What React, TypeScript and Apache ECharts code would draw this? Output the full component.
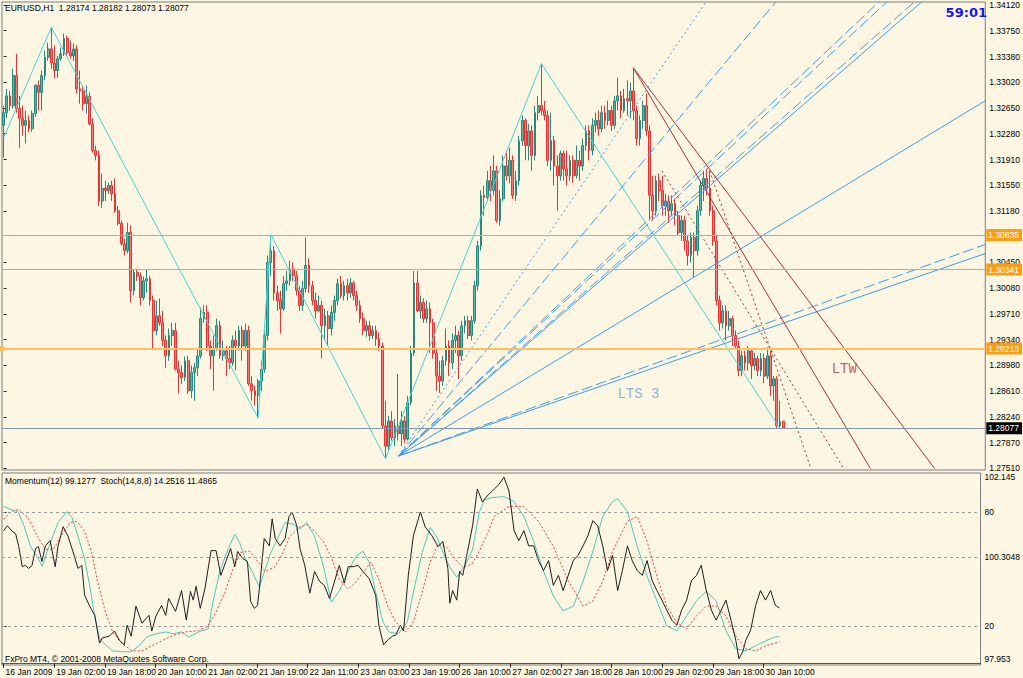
import React, { useEffect, useRef } from "react";
import * as echarts from "echarts";

// ---------- data ----------
const timeLabels = ["16 Jan 2009","19 Jan 02:00","19 Jan 18:00","20 Jan 10:00","21 Jan 02:00","21 Jan 19:00","22 Jan 11:00","23 Jan 03:00","23 Jan 19:00","26 Jan 10:00","27 Jan 02:00","27 Jan 18:00","28 Jan 10:00","29 Jan 02:00","29 Jan 18:00","30 Jan 10:00"];
const barsPerLabel = 16;
const slotCount = 309;

const priceTicks = [1.2751,1.2787,1.2824,1.2861,1.2898,1.2934,1.2971,1.3008,1.3045,1.3118,1.3155,1.3191,1.3228,1.3265,1.3302,1.3338,1.3375,1.3412];
const stochTicks = [80, 20];
const momentumTicks = [102.145, 100.3048, 97.953];

// [open, close, low, high]
const candles = [
[1.3240,1.3258,1.3194,1.3268],[1.3258,1.3282,1.3250,1.3292],[1.3282,1.3268,1.3261,1.3289],[1.3268,1.3311,1.3264,1.3321],
[1.3311,1.3264,1.3258,1.3342],[1.3264,1.3250,1.3208,1.3282],[1.3250,1.3240,1.3225,1.3268],[1.3240,1.3247,1.3214,1.3261],
[1.3247,1.3235,1.3230,1.3254],[1.3235,1.3257,1.3231,1.3261],[1.3257,1.3297,1.3252,1.3299],[1.3297,1.3287,1.3261,1.3304],
[1.3287,1.3311,1.3261,1.3318],[1.3311,1.3337,1.3304,1.3347],[1.3337,1.3349,1.3332,1.3358],[1.3349,1.3329,1.3321,1.3379],
[1.3329,1.3318,1.3307,1.3354],[1.3318,1.3335,1.3308,1.3339],[1.3335,1.3342,1.3332,1.3351],[1.3342,1.3364,1.3339,1.3371],
[1.3364,1.3344,1.3339,1.3368],[1.3344,1.3339,1.3335,1.3361],[1.3339,1.3349,1.3332,1.3357],[1.3349,1.3292,1.3285,1.3354],
[1.3292,1.3289,1.3271,1.3318],[1.3289,1.3271,1.3261,1.3297],[1.3271,1.3281,1.3257,1.3297],[1.3281,1.3242,1.3240,1.3287],
[1.3242,1.3204,1.3201,1.3250],[1.3204,1.3197,1.3190,1.3211],[1.3197,1.3132,1.3125,1.3204],[1.3132,1.3150,1.3122,1.3171],
[1.3150,1.3147,1.3132,1.3161],[1.3147,1.3154,1.3142,1.3158],[1.3154,1.3142,1.3132,1.3161],[1.3142,1.3118,1.3115,1.3164],
[1.3118,1.3100,1.3097,1.3125],[1.3100,1.3071,1.3068,1.3104],[1.3071,1.3061,1.3054,1.3078],[1.3061,1.3087,1.3057,1.3101],
[1.3087,1.3004,1.2987,1.3097],[1.3004,1.3030,1.2997,1.3035],[1.3030,1.3025,1.3018,1.3035],[1.3025,1.2994,1.2983,1.3030],
[1.2994,1.3018,1.2990,1.3024],[1.3018,1.3021,1.3001,1.3035],[1.3021,1.2990,1.2983,1.3025],[1.2990,1.2947,1.2921,1.2997],
[1.2947,1.2968,1.2940,1.2990],[1.2968,1.2958,1.2954,1.2993],[1.2958,1.2933,1.2925,1.2975],[1.2933,1.2911,1.2894,1.2940],
[1.2911,1.2940,1.2904,1.2950],[1.2940,1.2947,1.2925,1.2958],[1.2947,1.2892,1.2890,1.2958],[1.2892,1.2887,1.2857,1.2904],
[1.2887,1.2880,1.2871,1.2897],[1.2880,1.2904,1.2875,1.2910],[1.2904,1.2861,1.2857,1.2911],[1.2861,1.2887,1.2851,1.2897],
[1.2887,1.2894,1.2847,1.2901],[1.2894,1.2911,1.2882,1.2921],[1.2911,1.2964,1.2907,1.2980],[1.2964,1.2973,1.2958,1.2983],
[1.2973,1.2925,1.2918,1.2983],[1.2925,1.2911,1.2892,1.2933],[1.2911,1.2921,1.2861,1.2940],[1.2921,1.2954,1.2918,1.2964],
[1.2954,1.2911,1.2907,1.2961],[1.2911,1.2918,1.2904,1.2933],[1.2918,1.2907,1.2882,1.2925],[1.2907,1.2901,1.2892,1.2925],
[1.2901,1.2933,1.2897,1.2940],[1.2933,1.2925,1.2890,1.2947],[1.2925,1.2947,1.2918,1.2954],[1.2947,1.2925,1.2904,1.2954],
[1.2925,1.2947,1.2918,1.2957],[1.2947,1.2871,1.2868,1.2954],[1.2871,1.2861,1.2847,1.2882],[1.2861,1.2854,1.2840,1.2868],
[1.2854,1.2875,1.2822,1.2878],[1.2875,1.2892,1.2861,1.2904],[1.2892,1.2940,1.2887,1.2947],[1.2940,1.3044,1.2933,1.3054],
[1.3044,1.3061,1.3025,1.3082],[1.3061,1.3001,1.2990,1.3068],[1.3001,1.2990,1.2975,1.3011],[1.2990,1.2978,1.2943,1.3004],
[1.2978,1.3014,1.2975,1.3025],[1.3014,1.3018,1.3004,1.3032],[1.3018,1.3035,1.3011,1.3047],[1.3035,1.3025,1.3018,1.3044],
[1.3025,1.3004,1.2997,1.3032],[1.3004,1.2983,1.2975,1.3011],[1.2983,1.3007,1.2975,1.3018],[1.3007,1.3040,1.3001,1.3080],
[1.3040,1.3011,1.3001,1.3050],[1.3011,1.2990,1.2983,1.3018],[1.2990,1.2975,1.2964,1.3001],[1.2975,1.2983,1.2973,1.2997],
[1.2983,1.2954,1.2907,1.2990],[1.2954,1.2968,1.2933,1.2978],[1.2968,1.2950,1.2925,1.2975],[1.2950,1.2973,1.2940,1.2983],
[1.2973,1.2990,1.2961,1.2997],[1.2990,1.3014,1.2983,1.3021],[1.3014,1.2997,1.2993,1.3025],[1.2997,1.3011,1.2990,1.3018],
[1.3011,1.3001,1.2990,1.3021],[1.3001,1.3015,1.2994,1.3022],[1.3015,1.2997,1.2990,1.3018],[1.2997,1.2983,1.2975,1.3004],
[1.2983,1.2964,1.2958,1.2990],[1.2964,1.2947,1.2940,1.2973],[1.2947,1.2954,1.2938,1.2961],[1.2954,1.2940,1.2933,1.2961],
[1.2940,1.2947,1.2935,1.2954],[1.2947,1.2935,1.2925,1.2954],[1.2935,1.2925,1.2918,1.2944],[1.2925,1.2811,1.2807,1.2930],
[1.2811,1.2782,1.2764,1.2847],[1.2782,1.2818,1.2775,1.2825],[1.2818,1.2794,1.2790,1.2832],[1.2794,1.2811,1.2782,1.2821],
[1.2811,1.2800,1.2790,1.2885],[1.2800,1.2818,1.2782,1.2832],[1.2818,1.2792,1.2787,1.2825],[1.2792,1.2844,1.2790,1.2854],
[1.2844,1.2915,1.2840,1.2925],[1.2915,1.3015,1.2911,1.3032],[1.3015,1.2975,1.2973,1.3032],[1.2975,1.2987,1.2964,1.2997],
[1.2987,1.2964,1.2958,1.2993],[1.2964,1.2978,1.2958,1.2990],[1.2978,1.2958,1.2915,1.2987],[1.2958,1.2915,1.2907,1.2964],
[1.2915,1.2882,1.2861,1.2921],[1.2882,1.2875,1.2858,1.2904],[1.2875,1.2904,1.2868,1.2911],[1.2904,1.2925,1.2897,1.2950],
[1.2925,1.2901,1.2882,1.2933],[1.2901,1.2933,1.2892,1.2943],[1.2933,1.2940,1.2915,1.2954],[1.2940,1.2911,1.2878,1.2947],
[1.2911,1.2954,1.2904,1.2961],[1.2954,1.2961,1.2943,1.2968],[1.2961,1.2940,1.2935,1.2968],[1.2940,1.2961,1.2933,1.2968],
[1.2961,1.3011,1.2957,1.3018],[1.3011,1.3068,1.3004,1.3075],[1.3068,1.3140,1.3061,1.3147],[1.3140,1.3137,1.3111,1.3154],
[1.3137,1.3161,1.3132,1.3175],[1.3161,1.3147,1.3132,1.3182],[1.3147,1.3175,1.3140,1.3197],[1.3175,1.3104,1.3101,1.3182],
[1.3104,1.3135,1.3097,1.3147],[1.3135,1.3182,1.3132,1.3197],[1.3182,1.3168,1.3161,1.3204],[1.3168,1.3190,1.3157,1.3208],
[1.3190,1.3140,1.3135,1.3197],[1.3140,1.3161,1.3132,1.3175],[1.3161,1.3218,1.3154,1.3225],[1.3218,1.3247,1.3211,1.3254],
[1.3247,1.3211,1.3190,1.3250],[1.3211,1.3232,1.3190,1.3242],[1.3232,1.3197,1.3175,1.3240],[1.3197,1.3258,1.3190,1.3268],
[1.3258,1.3268,1.3247,1.3282],[1.3268,1.3261,1.3254,1.3328],[1.3261,1.3254,1.3247,1.3275],[1.3254,1.3190,1.3182,1.3261],
[1.3190,1.3218,1.3175,1.3258],[1.3218,1.3182,1.3154,1.3225],[1.3182,1.3168,1.3118,1.3197],[1.3168,1.3200,1.3161,1.3204],
[1.3200,1.3178,1.3161,1.3204],[1.3178,1.3168,1.3154,1.3204],[1.3168,1.3190,1.3161,1.3197],[1.3190,1.3168,1.3158,1.3197],
[1.3168,1.3190,1.3164,1.3211],[1.3190,1.3182,1.3161,1.3204],[1.3182,1.3211,1.3175,1.3221],[1.3211,1.3232,1.3204,1.3240],
[1.3232,1.3204,1.3190,1.3240],[1.3204,1.3240,1.3197,1.3250],[1.3240,1.3247,1.3230,1.3258],[1.3247,1.3235,1.3225,1.3261],
[1.3235,1.3258,1.3230,1.3268],[1.3258,1.3247,1.3235,1.3268],[1.3247,1.3261,1.3240,1.3275],[1.3261,1.3240,1.3232,1.3268],
[1.3240,1.3275,1.3235,1.3282],[1.3275,1.3282,1.3261,1.3308],[1.3282,1.3261,1.3250,1.3289],[1.3261,1.3278,1.3258,1.3292],
[1.3278,1.3275,1.3254,1.3304],[1.3275,1.3289,1.3250,1.3301],[1.3289,1.3261,1.3247,1.3322],[1.3261,1.3221,1.3211,1.3268],
[1.3221,1.3247,1.3211,1.3254],[1.3247,1.3268,1.3235,1.3275],[1.3268,1.3232,1.3225,1.3285],[1.3232,1.3140,1.3104,1.3240],
[1.3140,1.3118,1.3104,1.3168],[1.3118,1.3161,1.3111,1.3168],[1.3161,1.3147,1.3132,1.3171],[1.3147,1.3125,1.3111,1.3168],
[1.3125,1.3132,1.3111,1.3142],[1.3132,1.3118,1.3101,1.3140],[1.3118,1.3128,1.3111,1.3140],[1.3128,1.3111,1.3097,1.3135],
[1.3111,1.3087,1.3082,1.3118],[1.3087,1.3104,1.3075,1.3111],[1.3104,1.3075,1.3061,1.3111],[1.3075,1.3054,1.3040,1.3082],
[1.3054,1.3080,1.3044,1.3087],[1.3080,1.3061,1.3022,1.3087],[1.3061,1.3118,1.3054,1.3125],[1.3118,1.3154,1.3111,1.3161],
[1.3154,1.3164,1.3132,1.3175],[1.3164,1.3150,1.3140,1.3178],[1.3150,1.3118,1.3111,1.3175],[1.3118,1.3075,1.3068,1.3125],
[1.3075,1.2990,1.2983,1.3082],[1.2990,1.2958,1.2947,1.2997],[1.2958,1.2975,1.2950,1.2983],[1.2975,1.2954,1.2933,1.2983],
[1.2954,1.2964,1.2947,1.2975],[1.2964,1.2940,1.2925,1.2968],[1.2940,1.2925,1.2921,1.2947],[1.2925,1.2890,1.2882,1.2933],
[1.2890,1.2911,1.2882,1.2918],[1.2911,1.2901,1.2890,1.2918],[1.2901,1.2918,1.2890,1.2925],[1.2918,1.2897,1.2878,1.2921],
[1.2897,1.2907,1.2890,1.2915],[1.2907,1.2890,1.2882,1.2911],[1.2890,1.2907,1.2882,1.2915],[1.2907,1.2882,1.2872,1.2914],
[1.2882,1.2911,1.2878,1.2923],[1.2911,1.2868,1.2854,1.2918],[1.2868,1.2878,1.2847,1.2882],[1.2878,1.2811,1.2807,1.2882],
[1.2811,1.2817,1.2807,1.2847],[1.28174,1.28077,1.28073,1.28182]
];

// zigzag turning points [bar, price]
const zigzagBars = [0, 15, 80, 84, 120, 169, 244];
const zigzagPrices = [1.3222, 1.3380, 1.2822, 1.3084, 1.2764, 1.3328, 1.2807];

// blue fan from one origin
const fanOrigin = [124.1, 1.2768];
const fanTargets = [[221, 1.3418],[243, 1.3418],[275.5, 1.3418],[278, 1.3418],[286.7, 1.3418],[289, 1.3418],[308.5, 1.3275],[308.5, 1.3070],[308.5, 1.3057]];
const fanKinds = ["dotted","dashed","dashed","dashed","dashed","solid","solid","dashed","solid"];

// LTW (brown) lines
const ltwFrom = [[197.9, 1.3322],[197.9, 1.3322],[206.9, 1.3175],[221.9, 1.3175]];
const ltwTo = [[292.6, 1.2750],[272.4, 1.2750],[264.0, 1.2750],[253.7, 1.2750]];
const ltwKinds = ["solid","solid","dotted","dotted"];

const levelPrices = [1.30835, 1.30341, 1.29213];
const bidPrice = 1.28077;

const momentumPts = [[0,100.91],[1.2,101.02],[2.8,100.89],[3.8,100.84],[4.8,100.54],[5.9,100.08],[6.9,100.11],[7.9,100.04],[9,100.11],[10.1,100.50],[11,100.54],[12.1,100.20],[13.2,100.56],[14.7,100.68],[16.3,100.08],[17.2,100.56],[18.8,101.00],[20.3,100.79],[21.9,100.43],[23.5,100.04],[24.7,100.11],[25.6,99.42],[27.2,99.17],[28.8,98.96],[30.3,98.32],[31.2,98.44],[33.4,98.48],[35,98.60],[36.5,98.39],[38.1,98.28],[39,98.73],[40.3,98.48],[41.8,99.17],[43.7,98.78],[45.9,98.96],[46.8,98.60],[48.1,98.94],[49.9,99.19],[51.2,98.96],[52.1,99.35],[54.3,99.05],[56.2,99.53],[57.7,98.85],[59,99.51],[59.9,99.31],[60.8,99.63],[62.1,99.12],[63.6,99.58],[65.5,100.45],[67.1,100.45],[68.6,99.88],[70.2,100.20],[71.7,100.50],[73,100.08],[73.9,100.43],[75.5,100.27],[77,100.20],[78,99.28],[79.2,99.12],[80.2,99.19],[81.1,99.81],[82.3,100.73],[83.9,100.56],[84.8,101.18],[85.8,100.73],[87.3,100.56],[88.9,100.73],[90.1,101.23],[91.1,101.34],[92.6,101.02],[93.6,100.50],[95.1,100.11],[96.7,99.47],[98.2,99.97],[99.8,99.74],[101.3,99.65],[102.9,99.35],[104.5,99.74],[106,100.11],[107.6,99.70],[108.8,100.08],[110.4,100.08],[111.9,100.11],[113.5,99.97],[115.4,99.81],[117.5,99.42],[118.5,98.73],[120,98.28],[121.3,98.39],[122.8,98.48],[123.8,98.50],[125.3,98.73],[126.3,98.60],[127.8,99.88],[129.4,100.79],[131.6,101.34],[133.1,101.00],[135.3,100.79],[137.2,100.54],[138.7,100.66],[140.3,100.04],[140.9,99.24],[141.8,99.53],[143.1,99.31],[144,99.97],[145,99.88],[146.5,100.43],[148.1,101.02],[149.6,101.87],[151.2,101.57],[152.7,101.71],[154.3,101.82],[156.5,101.98],[158,102.14],[159.6,101.82],[161.2,100.91],[162.7,100.68],[164.3,100.91],[165.8,100.56],[167.4,100.56],[168.9,100.22],[170.5,99.99],[172.1,100.22],[173.6,99.65],[175.2,99.88],[176.7,99.53],[178.3,99.88],[179.9,100.22],[181.4,100.34],[183,100.56],[184.5,100.79],[186.1,101.14],[187.6,101.02],[189.2,100.56],[190.7,99.99],[192.3,100.34],[193.9,99.53],[195.4,99.99],[197,100.56],[198.5,100.22],[200.1,99.99],[201.7,99.88],[203.2,100.22],[204.8,99.76],[206.3,99.53],[207.9,99.31],[209.4,99.08],[211,98.85],[212.6,98.73],[214.1,99.08],[215.7,99.31],[217.2,99.76],[218.8,99.88],[220.3,100.11],[221.9,99.53],[223.5,99.08],[225,98.85],[226.6,99.08],[228.1,99.31],[229.7,98.85],[231.2,98.39],[232.2,97.96],[233.4,98.12],[234.4,98.39],[235.9,98.62],[237.5,99.19],[239,99.53],[240.6,99.31],[242.2,99.53],[243.7,99.19],[245,99.13]];

const stochMainPts = [[0,83.2],[2.3,81.6],[4.5,80.5],[6.3,73.7],[8.5,62.1],[10.7,56.3],[12.2,51.6],[13.8,59.5],[15.4,66.8],[17.2,74.7],[20,80.5],[21.6,77.4],[23.5,67.4],[25.6,55.3],[27.2,41.1],[28.8,25.3],[30.3,13.2],[32.5,9.5],[34.4,6.8],[37.5,6.3],[40.3,6.3],[42.8,9.5],[45.3,14.2],[48.1,15.8],[51.2,16.8],[53.7,15.8],[56.2,16.8],[58.4,14.2],[60.5,15.8],[62.4,17.4],[64.6,18.4],[66.1,32.6],[68.3,48.9],[70.8,60.5],[73,68.4],[74.5,64.2],[76.4,55.3],[78.6,48.4],[80.8,40.5],[82.3,48.4],[84.2,57.9],[86.4,65.8],[88.9,74.7],[91.7,73.7],[93.6,71.1],[95.7,74.7],[98.2,67.4],[101,51.6],[103.5,32.6],[106,38.4],[108.8,48.9],[111.3,56.8],[113.5,59.5],[115.4,53.7],[117.5,37.9],[119.7,22.6],[121.6,16.8],[124.7,15.8],[127.5,22.1],[129.4,37.9],[132.2,58.9],[134.7,72.1],[136.9,66.8],[138.7,58.9],[140.9,51.1],[143.1,45.8],[145.6,51.6],[148.1,60.5],[150.2,80.0],[151.8,86.8],[154.3,87.9],[158,88.4],[161.2,85.8],[164.3,77.9],[167.4,64.7],[170.5,48.9],[173.6,35.8],[176.7,27.9],[179.9,30.5],[183,43.7],[186.1,59.5],[189.2,77.9],[192.3,85.8],[193.9,87.4],[197,80.5],[200.1,62.1],[203.2,46.3],[206.3,33.2],[209.4,20.0],[212.6,17.4],[215.7,25.3],[218.8,33.2],[221.9,38.4],[225,33.2],[228.1,17.4],[231.2,7.9],[234.4,6.8],[237.5,9.5],[240.6,12.1],[243.7,14.2],[245,14.25]];

const stochSignalPts = [[0,76.3],[2.3,80.5],[4.8,81.6],[7.6,77.4],[10.7,67.4],[13.2,60.5],[15.7,60.5],[18.5,68.4],[21,74.7],[23.1,75.3],[25.6,70.0],[27.8,58.9],[29.7,43.2],[31.9,28.9],[34.4,16.8],[37.5,10.5],[40.6,6.8],[43.7,6.8],[46.8,9.5],[50,12.1],[53.1,14.7],[57.4,16.8],[61.5,17.4],[64.6,20.0],[67.1,27.4],[69.9,37.9],[72.4,50.0],[74.9,58.9],[77.7,59.5],[80.2,54.2],[82.6,48.9],[85.5,51.1],[88,57.9],[90.4,67.4],[93.2,72.1],[95.7,73.7],[98.2,70.0],[101,64.7],[103.5,56.3],[106,44.7],[108.8,39.5],[111.3,43.2],[113.8,48.9],[116,53.7],[118.5,44.7],[121.3,30.5],[123.8,22.1],[126.9,16.8],[129.4,22.1],[132.2,37.9],[134.7,53.7],[137.2,63.2],[140,61.6],[142.5,55.3],[145,51.1],[147.8,52.6],[150.2,59.5],[152.7,68.4],[154.9,77.9],[159.6,83.2],[164.3,83.2],[168.9,75.3],[173.6,62.1],[178.3,43.7],[183,30.5],[186.1,33.2],[189.2,43.7],[192.3,59.5],[197,75.3],[200.1,77.9],[203.2,64.7],[206.3,46.3],[209.4,30.5],[212.6,21.6],[215.7,18.4],[218.8,25.3],[221.9,30.5],[225,30.5],[228.1,25.3],[231.2,14.7],[234.4,7.9],[237.5,6.8],[240.6,9.5],[245,11.49]];

// ---------- styling ----------
const BG = "#fdf6e3";
const FONT = '"Liberation Sans Narrow", "Liberation Sans", Arial, sans-serif';
const FS = 8.5;
const BULL_FILL = "#5cb7a7";
const BULL_EDGE = "#258a7b";
const BEAR_FILL = "#ff7676";
const BEAR_EDGE = "#f03030";
const FAN_BLUE = "#3d9cf0";
const LTW_BROWN = "#a83232";
const ZIG = "#45d4d4";
const FRAME = "#7c7c7c";

const dashOf = (k: string) => (k === "dotted" ? [2, 3] : k === "dashed" ? [11, 4] : "solid");

function buildOption() {
  const categories = Array.from({ length: slotCount }, (_, i) => String(i));
  const labelAt = (i: number) =>
    i % barsPerLabel === 0 && i / barsPerLabel < timeLabels.length ? timeLabels[i / barsPerLabel] : "";

  const trend = (a: number[], b: number[], color: string, kind: string, width = 1) => ({
    type: "line",
    xAxisIndex: 1,
    yAxisIndex: 0,
    data: [a, b],
    symbol: "none",
    silent: true,
    clip: true,
    z: 4,
    lineStyle: { color, width, type: dashOf(kind) },
  });

  const levelLabel = (text: string, bg: string) => ({
    show: true,
    position: "end",
    distance: 1,
    formatter: text,
    backgroundColor: bg,
    color: "#ffffff",
    fontFamily: FONT,
    fontSize: FS,
    padding: [2, 3, 1, 2],
  });

  const series: any[] = [
    {
      type: "candlestick",
      xAxisIndex: 0,
      yAxisIndex: 0,
      data: candles,
      barWidth: "72%",
      z: 2,
      itemStyle: {
        color: BULL_FILL,
        color0: BEAR_FILL,
        borderColor: BULL_EDGE,
        borderColor0: BEAR_EDGE,
        borderWidth: 1,
      },
    },
    {
      type: "line",
      xAxisIndex: 1,
      yAxisIndex: 0,
      data: zigzagBars.map((b, i) => [b, zigzagPrices[i]]),
      symbol: "none",
      silent: true,
      z: 3,
      lineStyle: { color: ZIG, width: 1 },
      markLine: {
        silent: true,
        precision: 5,
        symbol: ["none", "none"],
        data: [
          { yAxis: levelPrices[0], lineStyle: { color: "#ffa31a", width: 1, type: "solid" }, label: levelLabel(levelPrices[0].toFixed(5), "#ff9d12") },
          { yAxis: levelPrices[1], lineStyle: { color: "#ffa31a", width: 1, type: "solid" }, label: levelLabel(levelPrices[1].toFixed(5), "#ff9d12") },
          { yAxis: levelPrices[2], symbol: ["emptyRect", "emptyRect"], symbolSize: 5, lineStyle: { color: "#ffbf66", width: 2, type: "solid" }, label: levelLabel(levelPrices[2].toFixed(5), "#ff9d12") },
          { yAxis: bidPrice, lineStyle: { color: "#7f97aa", width: 1, type: "solid" }, label: levelLabel(bidPrice.toFixed(5), "#000000") },
        ],
      },
    },
    ...fanTargets.map((t, i) => trend(fanOrigin, t, FAN_BLUE, fanKinds[i])),
    ...ltwFrom.map((f, i) => trend(f, ltwTo[i], LTW_BROWN, ltwKinds[i])),
    {
      type: "scatter",
      xAxisIndex: 1,
      yAxisIndex: 0,
      symbolSize: 1,
      itemStyle: { color: "rgba(0,0,0,0)" },
      silent: true,
      z: 5,
      data: [{ value: [199.5, 1.2857], label: { formatter: "LTS 3", color: "#6a9fe4" } }, { value: [264.2, 1.2892], label: { formatter: "LTW", color: "#b03a3a" } }],
      label: { show: true, position: "inside", fontFamily: '"Liberation Mono", "DejaVu Sans Mono", monospace', fontSize: 14 },
    },
    {
      type: "line",
      xAxisIndex: 3,
      yAxisIndex: 2,
      data: momentumPts,
      symbol: "none",
      silent: true,
      z: 4,
      lineStyle: { color: "#1e1e1e", width: 1 },
      markLine: {
        silent: true,
        precision: 5,
        symbol: ["none", "none"],
        label: { show: false },
        lineStyle: { color: "#9c9c9c", width: 1, type: [3, 3] },
        data: [{ yAxis: momentumTicks[1] }],
      },
    },
    {
      type: "line",
      xAxisIndex: 3,
      yAxisIndex: 1,
      data: stochMainPts,
      symbol: "none",
      silent: true,
      z: 3,
      lineStyle: { color: "#4cc8bc", width: 1 },
      markLine: {
        silent: true,
        precision: 5,
        symbol: ["none", "none"],
        label: { show: false },
        lineStyle: { color: "#9c9c9c", width: 1, type: [3, 3] },
        data: stochTicks.map((v) => ({ yAxis: v })),
      },
    },
    {
      type: "line",
      xAxisIndex: 3,
      yAxisIndex: 1,
      data: stochSignalPts,
      symbol: "none",
      silent: true,
      z: 3,
      lineStyle: { color: "#ff3a3a", width: 1, type: [2, 2] },
    },
  ];

  const rightLabel = { fontFamily: FONT, fontSize: FS, color: "#000", margin: 4 };

  return {
    animation: false,
    backgroundColor: BG,
    grid: [
      { left: 2, top: 2, width: 990, height: 468, show: true, borderColor: FRAME, borderWidth: 1, backgroundColor: "transparent" },
      { left: 2, top: 473, width: 990, height: 192, show: true, borderColor: FRAME, borderWidth: 1, backgroundColor: "transparent" },
    ],
    xAxis: [
      { type: "category", gridIndex: 0, data: categories, boundaryGap: true, axisLine: { show: false }, axisTick: { show: false }, axisLabel: { show: false }, splitLine: { show: false } },
      { type: "value", gridIndex: 0, min: -0.5, max: slotCount - 0.5, show: false },
      {
        type: "category",
        gridIndex: 1,
        data: categories,
        boundaryGap: true,
        axisLine: { show: true, lineStyle: { color: "#555" } },
        axisTick: {
          show: true,
          alignWithLabel: true,
          length: 4,
          interval: (i: number) => labelAt(i) !== "",
          lineStyle: { color: "#222" },
        },
        axisLabel: {
          interval: (i: number) => labelAt(i) !== "",
          formatter: (_v: string, i: number) => labelAt(i),
          align: "left",
          margin: 2,
          padding: [0, 0, 0, 2],
          fontFamily: FONT,
          fontSize: FS,
          color: "#000",
        },
        splitLine: { show: false },
      },
      { type: "value", gridIndex: 1, min: -0.5, max: slotCount - 0.5, show: false },
    ],
    yAxis: [
      {
        type: "value",
        gridIndex: 0,
        position: "right",
        min: 1.2748,
        max: 1.3416,
        splitLine: { show: false },
        axisLine: { show: false },
        axisTick: { show: true, length: 3, customValues: priceTicks, lineStyle: { color: "#222" } },
        axisLabel: { ...rightLabel, customValues: priceTicks, formatter: (v: number) => v.toFixed(5) },
      },
      {
        type: "value",
        gridIndex: 1,
        position: "right",
        min: -0.7,
        max: 100.9,
        splitLine: { show: false },
        axisLine: { show: false },
        axisTick: { show: true, length: 3, customValues: stochTicks, lineStyle: { color: "#222" } },
        axisLabel: { ...rightLabel, customValues: stochTicks, formatter: (v: number) => String(v) },
      },
      {
        type: "value",
        gridIndex: 1,
        position: "right",
        min: 97.816,
        max: 102.237,
        splitLine: { show: false },
        axisLine: { show: false },
        axisTick: { show: false },
        axisLabel: { ...rightLabel, customValues: momentumTicks, formatter: (v: number) => String(v) },
      },
    ],
    series,
    graphic: [
      { type: "text", left: 5, top: 3, silent: true, style: { text: "EURUSD,H1  1.28174 1.28182 1.28073 1.28077", font: `${FS}px ${FONT}`, fill: "#000" } },
      { type: "text", right: 36, top: 6, silent: true, style: { text: "59:01", font: 'bold 13px "DejaVu Sans", sans-serif', fill: "#1414f5" } },
      { type: "text", left: 5, top: 476, silent: true, style: { text: "Momentum(12) 99.1277  Stoch(14,8,8) 14.2516 11.4865", font: `${FS}px ${FONT}`, fill: "#000" } },
      { type: "text", left: 5, top: 654, silent: true, style: { text: "FxPro MT4, \u00a9 2001-2008 MetaQuotes Software Corp.", font: `${FS}px ${FONT}`, fill: "#000" } },
    ],
  };
}

export default function App() {
  const ref = useRef<HTMLDivElement>(null);
  useEffect(() => {
    document.body.style.margin = "0";
    const chart = echarts.init(ref.current as HTMLDivElement, null, { renderer: "svg" });
    chart.setOption(buildOption() as any);
    return () => chart.dispose();
  }, []);
  return <div ref={ref} style={{ width: 1023, height: 678, background: BG }} />;
}
